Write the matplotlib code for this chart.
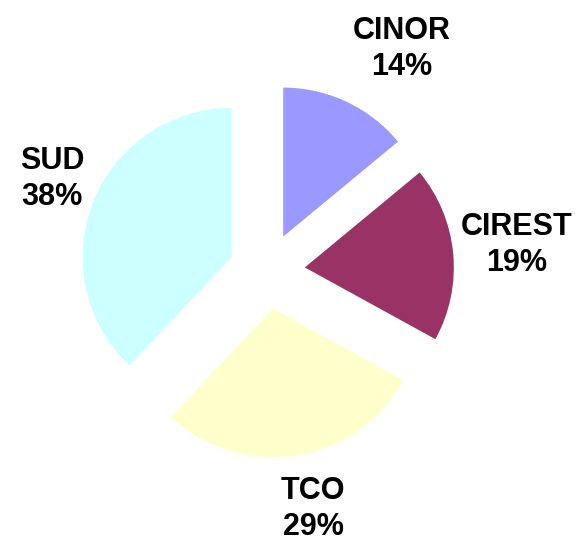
import matplotlib.pyplot as plt

# données
noms = ["CINOR", "CIREST", "TCO", "SUD"]
parts = [14, 19, 29, 38]
couleurs = ["#9999FF", "#993366", "#FFFFCC", "#CCFFFF"]
ecart = [38, 38, 38, 38]

fig = plt.figure(figsize=(5.78, 5.42), dpi=100)
ax = fig.add_axes([0, 0, 1, 1])

ax.pie(parts, colors=couleurs, explode=ecart, startangle=90, counterclock=False,
       center=(267, 271), radius=149, wedgeprops=dict(linewidth=0))

# étiquettes
pos_etiq = [(402, 493), (517, 297), (313, 33), (52, 363)]
for nom, p, (x, y) in zip(noms, parts, pos_etiq):
    ax.text(x, y, f"{nom}\n{p}%", ha="center", va="center", fontsize=22,
            fontweight="bold", family="Liberation Sans", linespacing=1.3)

ax.set_xlim(0, 578)
ax.set_ylim(0, 542)
ax.set_aspect("equal")
ax.axis("off")

plt.savefig("out.png", dpi=100)
